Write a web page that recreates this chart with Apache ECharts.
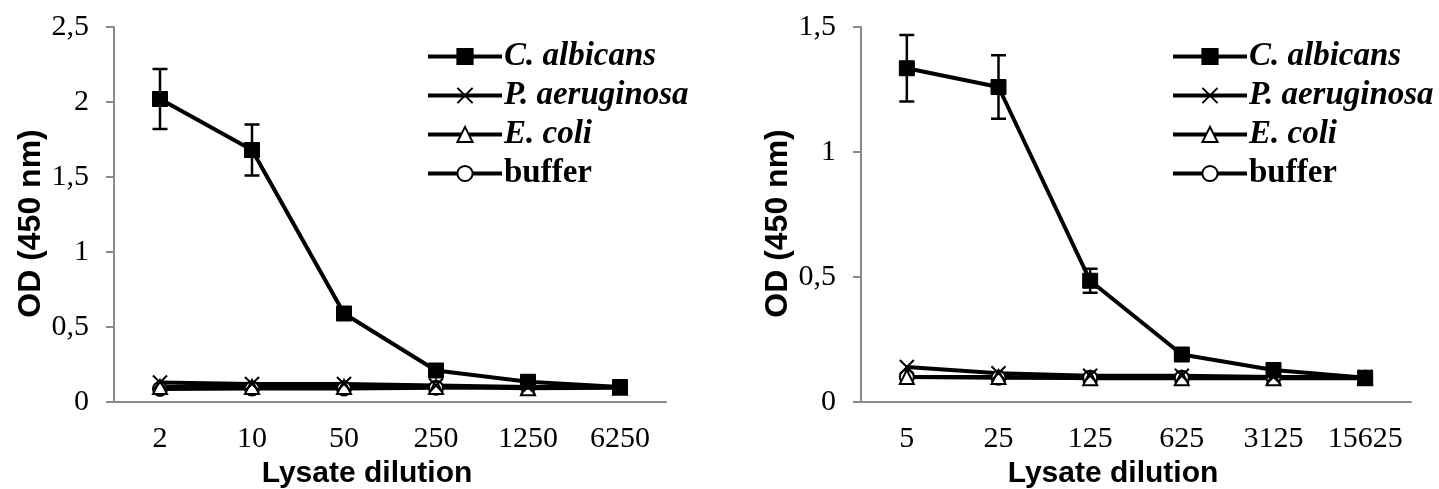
<!DOCTYPE html>
<html>
<head>
<meta charset="utf-8">
<script src="https://cdn.jsdelivr.net/npm/echarts@6/dist/echarts.min.js"></script>
<style>
html,body{margin:0;padding:0;background:#fff;}
#chart{width:1439px;height:489px;}
</style>
</head>
<body>
<div id="chart"></div>
<script>
// ---- data ----
const seriesNames = ['C. albicans', 'P. aeruginosa', 'E. coli', 'buffer'];

const leftCategories = ['2', '10', '50', '250', '1250', '6250'];
const leftCalbicans = [2.02, 1.68, 0.59, 0.21, 0.135, 0.10];
const leftCalbicansErr = [0.20, 0.17, 0.03, 0.02, 0.01, 0.01];
const leftPaeruginosa = [0.13, 0.12, 0.12, 0.11, 0.10, 0.10];
const leftEcoli = [0.10, 0.10, 0.10, 0.10, 0.092, 0.095];
const leftBuffer = [0.087, 0.09, 0.09, 0.095, 0.10, 0.10];

const rightCategories = ['5', '25', '125', '625', '3125', '15625'];
const rightCalbicans = [1.335, 1.26, 0.485, 0.19, 0.128, 0.097];
const rightCalbicansErr = [0.133, 0.127, 0.048, 0.01, 0.01, 0.005];
const rightPaeruginosa = [0.14, 0.115, 0.105, 0.105, 0.10, 0.10];
const rightEcoli = [0.10, 0.10, 0.095, 0.095, 0.095, 0.095];
const rightBuffer = [0.10, 0.097, 0.097, 0.097, 0.097, 0.097];

const leftYTicks = {min: 0, max: 2.5, interval: 0.5};
const rightYTicks = {min: 0, max: 1.5, interval: 0.5};

// ---- styles ----
const AXIS_GREY = '#8a8a8a';
const serif = 'Liberation Serif, Times New Roman, serif';
const sans = 'Liberation Sans, Arial, sans-serif';

const symbolDefs = {
  'C. albicans': {symbol: 'rect', size: 15, itemStyle: {color: '#000', borderColor: '#000', borderWidth: 1}},
  'P. aeruginosa': {symbol: 'path://M0,0L10,10M10,0L0,10', size: 14, itemStyle: {color: 'rgba(0,0,0,0)', borderColor: '#000', borderWidth: 2}},
  'E. coli': {symbol: 'triangle', size: 14, itemStyle: {color: '#fff', borderColor: '#000', borderWidth: 2}},
  'buffer': {symbol: 'circle', size: 14, itemStyle: {color: '#fff', borderColor: '#000', borderWidth: 2}}
};

function lineSeries(name, data, idx) {
  const d = symbolDefs[name];
  return {
    name: name, type: 'line', xAxisIndex: idx, yAxisIndex: idx,
    data: data, symbol: d.symbol, symbolSize: d.size,
    itemStyle: d.itemStyle,
    lineStyle: {color: '#000', width: 4},
    emphasis: {disabled: true}, animation: false, z: 3
  };
}

function errorSeries(means, errs, idx) {
  return {
    type: 'custom', xAxisIndex: idx, yAxisIndex: idx, z: 2,
    data: means.map((m, i) => [i, m - errs[i], m + errs[i]]),
    encode: {x: 0, y: [1, 2]},
    renderItem: function (params, api) {
      const x = api.value(0);
      const top = api.coord([x, api.value(2)]);
      const bot = api.coord([x, api.value(1)]);
      const hw = 7.5;
      const st = {stroke: '#000', lineWidth: 2.5};
      return {type: 'group', children: [
        {type: 'line', shape: {x1: top[0], y1: top[1], x2: bot[0], y2: bot[1]}, style: st},
        {type: 'line', shape: {x1: top[0] - hw, y1: top[1], x2: top[0] + hw, y2: top[1]}, style: st},
        {type: 'line', shape: {x1: bot[0] - hw, y1: bot[1], x2: bot[0] + hw, y2: bot[1]}, style: st}
      ]};
    },
    silent: true, animation: false
  };
}

function xAxisDef(cats, idx) {
  return {
    type: 'category', gridIndex: idx, data: cats, boundaryGap: true,
    axisLine: {lineStyle: {color: AXIS_GREY, width: 2}},
    axisTick: {show: false},
    axisLabel: {color: '#000', fontFamily: serif, fontSize: 30, margin: 22, interval: 0, hideOverlap: false},
    name: 'Lysate dilution', nameLocation: 'middle', nameGap: 52,
    nameTextStyle: {color: '#000', fontFamily: sans, fontWeight: 'bold', fontSize: 30, padding: [0, 46, 0, 0]}
  };
}

function yAxisDef(ticks, idx, gap) {
  return {
    type: 'value', gridIndex: idx, min: ticks.min, max: ticks.max, interval: ticks.interval,
    axisLine: {show: true, lineStyle: {color: AXIS_GREY, width: 2}},
    axisTick: {show: true, length: 8, lineStyle: {color: AXIS_GREY, width: 2}},
    splitLine: {show: false},
    axisLabel: {color: '#000', fontFamily: serif, fontSize: 30, margin: 25,
      formatter: v => String(v).replace('.', ',')},
    name: 'OD (450 nm)', nameLocation: 'middle', nameGap: gap,
    nameTextStyle: {color: '#000', fontFamily: sans, fontWeight: 'bold', fontSize: 32, padding: [0, 18, 0, 0]}
  };
}

function legendDef(left) {
  return {
    left: left, top: 35, orient: 'vertical', itemWidth: 74, itemHeight: 19, itemGap: 6,
    data: seriesNames,
    selectedMode: false,
    lineStyle: {width: 4, color: '#000'},
    formatter: n => n === 'buffer' ? '{b|' + n + '}' : '{i|' + n + '}',
    textStyle: {
      color: '#000',
      padding: [0, 0, 0, -3],
      rich: {
        i: {fontFamily: serif, fontWeight: 'bold', fontStyle: 'italic', fontSize: 33, lineHeight: 33, color: '#000'},
        b: {fontFamily: serif, fontWeight: 'bold', fontSize: 33, lineHeight: 33, color: '#000'}
      }
    }
  };
}

const chart = echarts.init(document.getElementById('chart'), null, {renderer: 'canvas'});
chart.setOption({
  backgroundColor: '#fff',
  animation: false,
  grid: [
    {left: 114, top: 27, width: 552, height: 375, outerBoundsMode: 'none', containLabel: false},
    {left: 861, top: 27, width: 550, height: 375, outerBoundsMode: 'none', containLabel: false}
  ],
  xAxis: [xAxisDef(leftCategories, 0), xAxisDef(rightCategories, 1)],
  yAxis: [yAxisDef(leftYTicks, 0, 66), yAxisDef(rightYTicks, 1, 57)],
  legend: [legendDef(421), legendDef(1166)],
  series: [
    errorSeries(leftCalbicans, leftCalbicansErr, 0),
    lineSeries('buffer', leftBuffer, 0),
    lineSeries('E. coli', leftEcoli, 0),
    lineSeries('P. aeruginosa', leftPaeruginosa, 0),
    lineSeries('C. albicans', leftCalbicans, 0),
    errorSeries(rightCalbicans, rightCalbicansErr, 1),
    lineSeries('buffer', rightBuffer, 1),
    lineSeries('E. coli', rightEcoli, 1),
    lineSeries('P. aeruginosa', rightPaeruginosa, 1),
    lineSeries('C. albicans', rightCalbicans, 1)
  ]
});
</script>
</body>
</html>
